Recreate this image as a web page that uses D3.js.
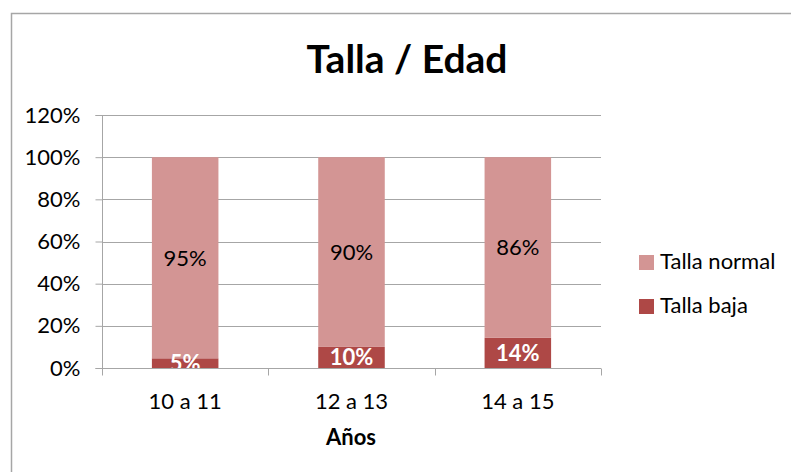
<!DOCTYPE html>
<html lang="es">
<head>
  <meta charset="UTF-8" />
  <title>Talla / Edad</title>
  <style>
    body { margin: 0; background: #fff; }
    text { font-family: Lato, "Open Sans", sans-serif; fill: #000; }
    .grid line { stroke: #a6a6a6; stroke-width: 1px; }
  </style>
  <script src="https://d3js.org/d3.v7.min.js"></script>
</head>
<body>
  <svg width="791" height="472"></svg>
  <script>
    const categories = ['10 a 11', '12 a 13', '14 a 15'];
    const tallaBaja = [4.6, 10, 14.3];
    const tallaNormal = [95.4, 90, 85.7];
    const yTicks = [0, 20, 40, 60, 80, 100, 120];
    const seriesNames = ['Talla baja', 'Talla normal'];
    const colors = ['#ae4846', '#d39594'];

    const svg = d3.select('svg');

    // chart frame (runs off the right and bottom edges)
    svg.append('rect')
      .attr('x', 11.5).attr('y', 13.5)
      .attr('width', 900).attr('height', 600)
      .attr('fill', 'none')
      .attr('stroke', '#a6a6a6')
      .attr('stroke-width', 1.5);

    const plotL = 102, plotR = 601, plotT = 115, plotB = 368;

    const x = d3.scaleBand().domain(categories).range([plotL, plotR]).paddingInner(0.6).paddingOuter(0.3);
    const band = d3.scaleBand().domain(categories).range([plotL, plotR]);
    const y = d3.scaleLinear().domain([0, 120]).range([plotB, plotT]);

    // gridlines
    svg.append('g').attr('class', 'grid')
      .selectAll('line')
      .data(yTicks.filter(d => d > 0))
      .join('line')
      .attr('x1', plotL).attr('x2', plotR)
      .attr('y1', d => Math.round(y(d)) + 0.5)
      .attr('y2', d => Math.round(y(d)) + 0.5);

    // stacked data
    const rows = categories.map((c, i) => ({ cat: c, baja: tallaBaja[i], normal: tallaNormal[i] }));
    const stacked = d3.stack().keys(['baja', 'normal'])(rows);

    svg.append('clipPath').attr('id', 'plot')
      .append('rect').attr('x', plotL).attr('y', plotT).attr('width', plotR - plotL).attr('height', plotB - plotT);

    const layers = svg.append('g').selectAll('g')
      .data(stacked)
      .join('g')
      .attr('fill', (d, i) => colors[i]);

    layers.selectAll('rect')
      .data(d => d)
      .join('rect')
      .attr('x', d => x(d.data.cat))
      .attr('width', x.bandwidth())
      .attr('y', d => y(d[1]))
      .attr('height', d => y(d[0]) - y(d[1]));

    // data labels
    const labels = svg.append('g').attr('clip-path', 'url(#plot)');
    stacked.forEach((layer, i) => {
      labels.selectAll('text.l' + i)
        .data(layer)
        .join('text')
        .attr('class', 'l' + i)
        .attr('x', d => x(d.data.cat) + x.bandwidth() / 2)
        .attr('y', d => (y(d[0]) + y(d[1])) / 2)
        .attr('dy', '0.36em')
        .attr('text-anchor', 'middle')
        .attr('font-size', 22)
        .attr('font-weight', i === 0 ? 'bold' : 'normal')
        .style('fill', i === 0 ? '#fff' : '#000')
        .text(d => Math.round(d[1] - d[0]) + '%');
    });

    // y axis
    const yAxis = svg.append('g')
      .attr('transform', `translate(${plotL + 0.5},0)`)
      .call(d3.axisLeft(y).tickValues(yTicks).tickSize(7).tickFormat(d => d + '%'));
    yAxis.select('.domain').attr('stroke', '#a6a6a6').attr('d', `M-7,${y(120) + 0.5}H0V${plotB + 0.5}H-7`);
    yAxis.selectAll('.tick line').attr('stroke', '#a6a6a6');
    yAxis.selectAll('.tick text')
      .attr('x', -22)
      .attr('font-size', 22)
      .attr('font-family', 'Lato, sans-serif')
      .style('fill', '#000');

    // x axis
    const xAxis = svg.append('g').attr('transform', `translate(0,${plotB + 0.5})`);
    xAxis.append('line').attr('x1', plotL).attr('x2', plotR).attr('stroke', '#a6a6a6');
    xAxis.selectAll('line.tk')
      .data(categories.concat([null]))
      .join('line')
      .attr('class', 'tk')
      .attr('x1', d => Math.round(d === null ? plotR : band(d)) + 0.5)
      .attr('x2', d => Math.round(d === null ? plotR : band(d)) + 0.5)
      .attr('y1', 0).attr('y2', 7)
      .attr('stroke', '#a6a6a6');
    xAxis.selectAll('text')
      .data(categories)
      .join('text')
      .attr('x', d => band(d) + band.bandwidth() / 2)
      .attr('y', 40)
      .attr('text-anchor', 'middle')
      .attr('font-size', 22)
      .text(d => d);

    // axis title
    svg.append('text')
      .attr('x', 351).attr('y', 445)
      .attr('text-anchor', 'middle')
      .attr('font-size', 22)
      .attr('font-weight', 'bold')
      .text('Años');

    // title
    svg.append('text')
      .attr('x', 407).attr('y', 73)
      .attr('text-anchor', 'middle')
      .attr('font-size', 39)
      .attr('font-weight', 'bold')
      .text('Talla / Edad');

    // legend
    const legend = svg.append('g').selectAll('g')
      .data(['Talla normal', 'Talla baja'])
      .join('g')
      .attr('transform', (d, i) => `translate(639,${255 + i * 44})`);
    legend.append('rect')
      .attr('width', 15).attr('height', 15)
      .attr('fill', d => colors[seriesNames.indexOf(d)]);
    legend.append('text')
      .attr('x', 21).attr('y', 14)
      .attr('font-size', 22)
      .text(d => d);
  </script>
</body>
</html>
